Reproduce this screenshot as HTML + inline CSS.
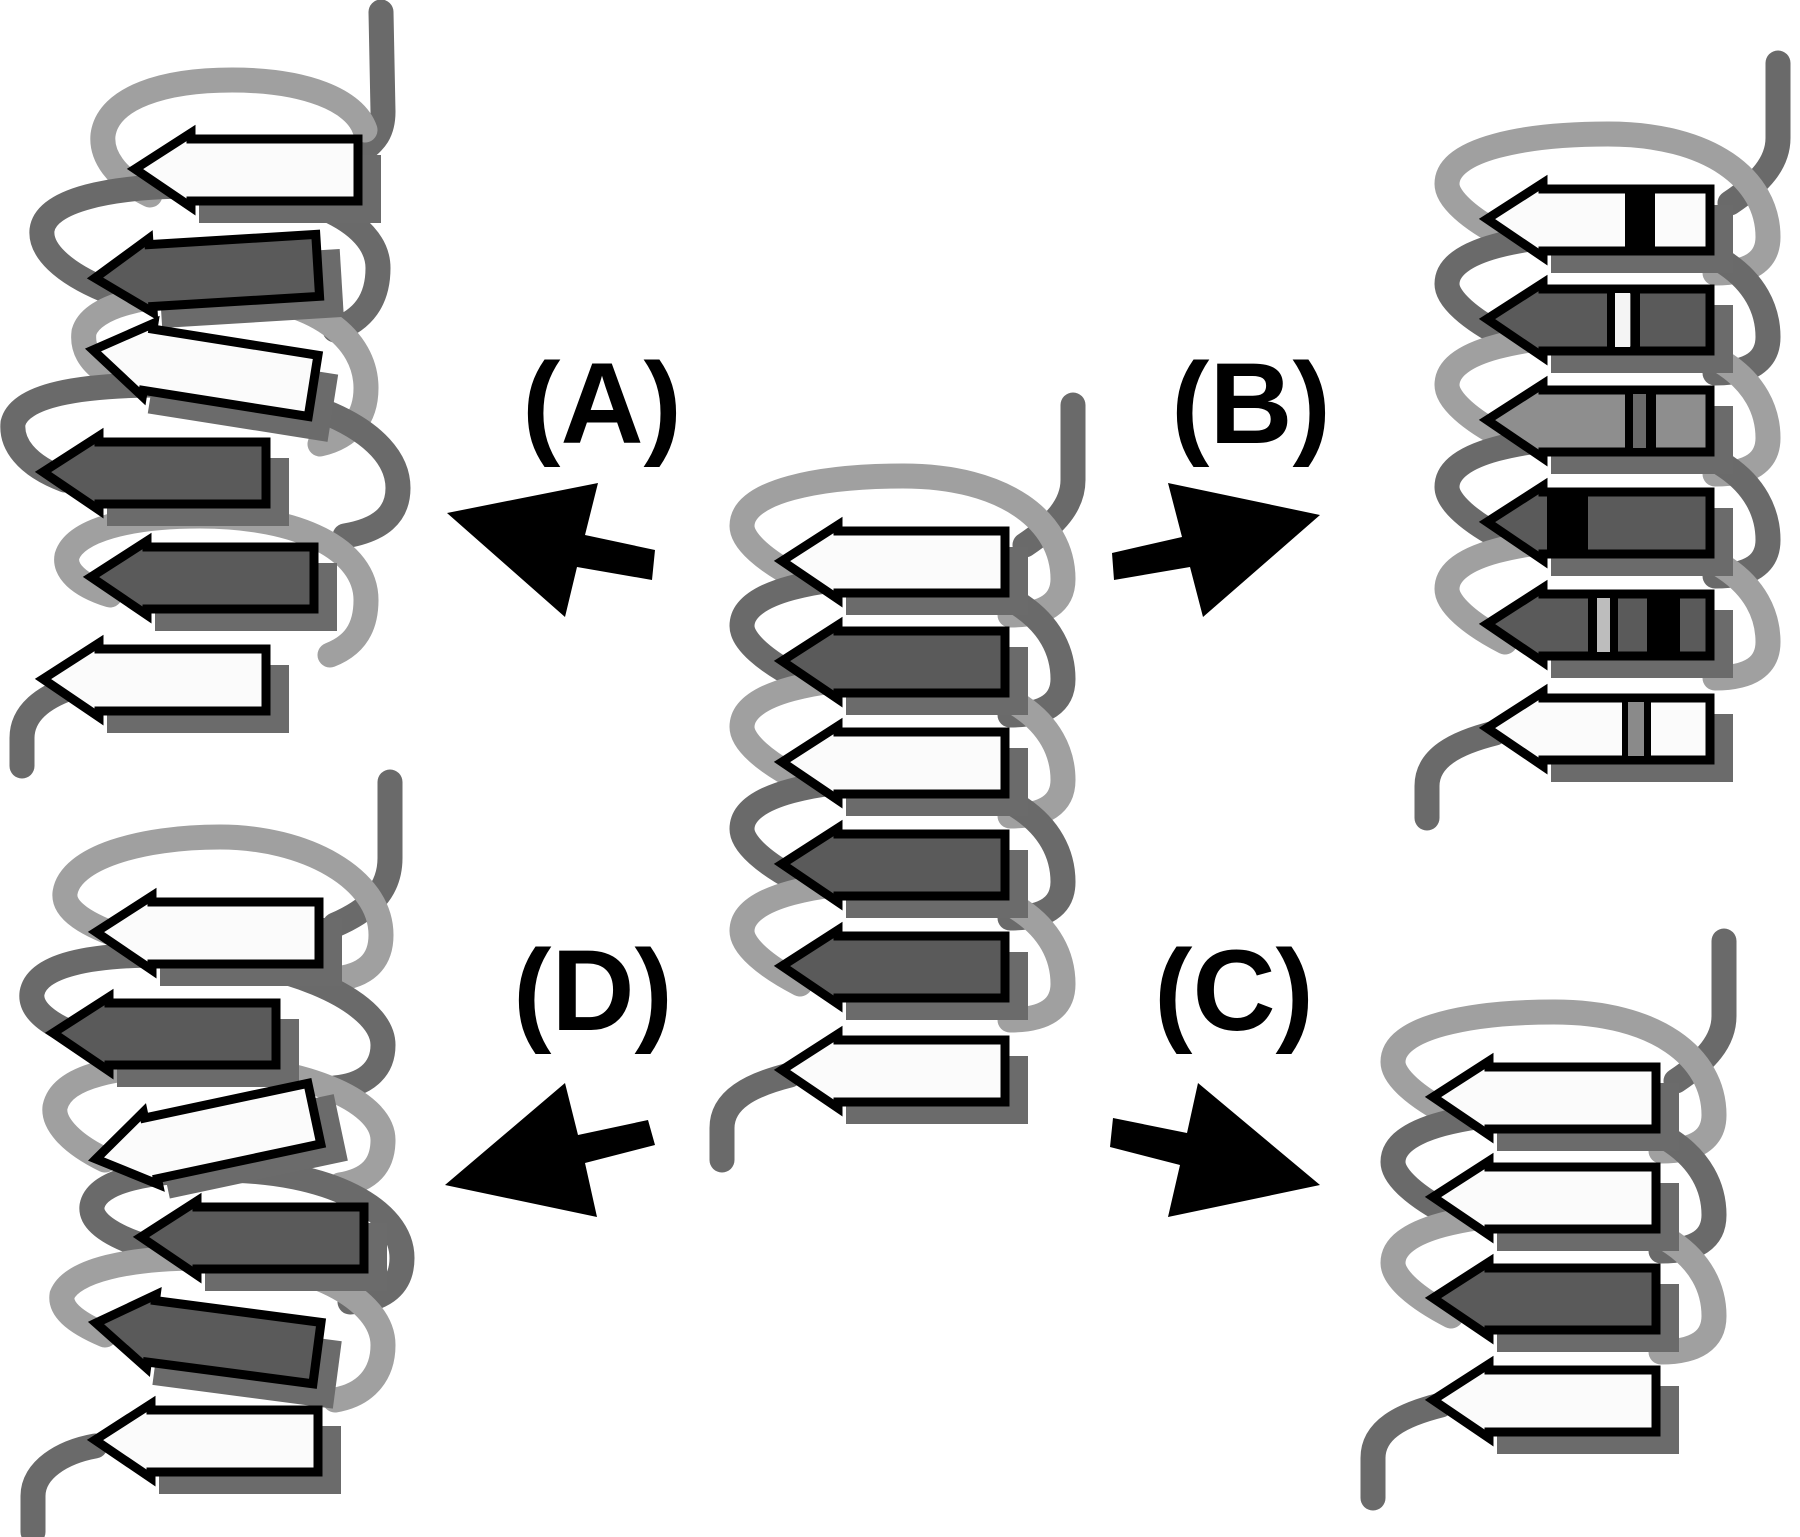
<!DOCTYPE html>
<html>
<head>
<meta charset="utf-8">
<style>
  html,body{margin:0;padding:0;background:#fff;}
  svg{display:block;}
  text{font-family:"Liberation Sans",Arial,sans-serif;font-weight:bold;}
</style>
</head>
<body>
<svg width="1800" height="1537" viewBox="0 0 1800 1537" xmlns="http://www.w3.org/2000/svg">
  <defs>
    <polygon id="ar" points="0,0 56,-36 56,-30 223,-30 223,32 56,32 56,38"/>
    <rect id="sh" x="64" y="-14" width="182" height="68"/>
    <path id="lp" fill="none" d="M 800 18 C 765 0 742 -20 742 -35 C 742 -70 820 -85 903 -85 C 1005 -85 1063 -40 1063 18 C 1063 42 1045 54 1010 54"/>
  </defs>
  <rect width="1800" height="1537" fill="#fff"/>

  <!-- ============ CENTER HELIX ============ -->
  <g id="center">
    <g fill="none" stroke-width="25" stroke-linecap="round">
      <path d="M 1073 405 L 1073 480 C 1073 505 1055 525 1025 545" stroke="#6a6a6a"/>
      <use href="#lp" transform="translate(0,561)" stroke="#a0a0a0"/>
      <use href="#lp" transform="translate(0,661)" stroke="#6a6a6a"/>
      <use href="#lp" transform="translate(0,762)" stroke="#a0a0a0"/>
      <use href="#lp" transform="translate(0,864)" stroke="#6a6a6a"/>
      <use href="#lp" transform="translate(0,966)" stroke="#a0a0a0"/>
      <path d="M 790 1075 C 750 1085 722 1100 722 1128 L 722 1160" stroke="#6a6a6a"/>
    </g>
    <g fill="#6b6b6b">
      <use href="#sh" transform="translate(782,561)"/>
      <use href="#sh" transform="translate(782,661)"/>
      <use href="#sh" transform="translate(782,762)"/>
      <use href="#sh" transform="translate(782,864)"/>
      <use href="#sh" transform="translate(782,966)"/>
      <use href="#sh" transform="translate(782,1070)"/>
    </g>
    <g stroke="#000" stroke-width="9" stroke-linejoin="miter">
      <use href="#ar" transform="translate(782,561)" fill="#fbfbfb"/>
      <use href="#ar" transform="translate(782,661)" fill="#5a5a5a"/>
      <use href="#ar" transform="translate(782,762)" fill="#fbfbfb"/>
      <use href="#ar" transform="translate(782,864)" fill="#5a5a5a"/>
      <use href="#ar" transform="translate(782,966)" fill="#5a5a5a"/>
      <use href="#ar" transform="translate(782,1070)" fill="#fbfbfb"/>
    </g>
  </g>

  <!-- ============ B HELIX (top right) ============ -->
  <g transform="translate(705,-342)">
    <g fill="none" stroke-width="25" stroke-linecap="round">
      <path d="M 1073 405 L 1073 480 C 1073 505 1055 525 1025 545" stroke="#6a6a6a"/>
      <use href="#lp" transform="translate(0,561)" stroke="#a0a0a0"/>
      <use href="#lp" transform="translate(0,661)" stroke="#6a6a6a"/>
      <use href="#lp" transform="translate(0,762)" stroke="#a0a0a0"/>
      <use href="#lp" transform="translate(0,864)" stroke="#6a6a6a"/>
      <use href="#lp" transform="translate(0,966)" stroke="#a0a0a0"/>
      <path d="M 790 1075 C 750 1085 722 1100 722 1128 L 722 1160" stroke="#6a6a6a"/>
    </g>
    <g fill="#6b6b6b">
      <use href="#sh" transform="translate(782,561)"/>
      <use href="#sh" transform="translate(782,661)"/>
      <use href="#sh" transform="translate(782,762)"/>
      <use href="#sh" transform="translate(782,864)"/>
      <use href="#sh" transform="translate(782,966)"/>
      <use href="#sh" transform="translate(782,1070)"/>
    </g>
    <g stroke="#000" stroke-width="9" stroke-linejoin="miter">
      <use href="#ar" transform="translate(782,561)" fill="#fbfbfb"/>
      <use href="#ar" transform="translate(782,661)" fill="#5a5a5a"/>
      <use href="#ar" transform="translate(782,762)" fill="#8e8e8e"/>
      <use href="#ar" transform="translate(782,864)" fill="#5a5a5a"/>
      <use href="#ar" transform="translate(782,966)" fill="#5a5a5a"/>
      <use href="#ar" transform="translate(782,1070)" fill="#fbfbfb"/>
    </g>
    <!-- stripes -->
    <g>
      <rect x="920" y="535" width="30" height="54" fill="#000"/>
      <rect x="902" y="635" width="8" height="54" fill="#000"/>
      <rect x="910" y="635" width="15" height="54" fill="#f4f4f4"/>
      <rect x="926" y="635" width="9" height="54" fill="#000"/>
      <rect x="920" y="736" width="8" height="54" fill="#000"/>
      <rect x="928" y="736" width="13" height="54" fill="#6a6a6a"/>
      <rect x="941" y="736" width="10" height="54" fill="#000"/>
      <rect x="842" y="838" width="41" height="54" fill="#000"/>
      <rect x="883" y="940" width="9" height="54" fill="#000"/>
      <rect x="892" y="940" width="13" height="54" fill="#bdbdbd"/>
      <rect x="905" y="940" width="8" height="54" fill="#000"/>
      <rect x="942" y="940" width="33" height="54" fill="#000"/>
      <rect x="917" y="1044" width="6" height="54" fill="#000"/>
      <rect x="923" y="1044" width="16" height="54" fill="#8a8a8a"/>
      <rect x="939" y="1044" width="7" height="54" fill="#000"/>
    </g>
  </g>

  <!-- ============ C HELIX (bottom right) ============ -->
  <g transform="translate(651,536)">
    <g fill="none" stroke-width="25" stroke-linecap="round">
      <path d="M 1073 405 L 1073 480 C 1073 505 1055 525 1025 545" stroke="#6a6a6a"/>
      <use href="#lp" transform="translate(0,561)" stroke="#a0a0a0"/>
      <use href="#lp" transform="translate(0,661)" stroke="#6a6a6a"/>
      <use href="#lp" transform="translate(0,762)" stroke="#a0a0a0"/>
      <path d="M 790 869 C 750 879 722 894 722 922 L 722 962" stroke="#6a6a6a"/>
    </g>
    <g fill="#6b6b6b">
      <use href="#sh" transform="translate(782,561)"/>
      <use href="#sh" transform="translate(782,661)"/>
      <use href="#sh" transform="translate(782,762)"/>
      <use href="#sh" transform="translate(782,864)"/>
    </g>
    <g stroke="#000" stroke-width="9" stroke-linejoin="miter">
      <use href="#ar" transform="translate(782,561)" fill="#fbfbfb"/>
      <use href="#ar" transform="translate(782,661)" fill="#fbfbfb"/>
      <use href="#ar" transform="translate(782,762)" fill="#5a5a5a"/>
      <use href="#ar" transform="translate(782,864)" fill="#fbfbfb"/>
    </g>
  </g>

  <!-- ============ A HELIX (top left) ============ -->
  <g>
    <g fill="none" stroke-width="25" stroke-linecap="round">
      <path d="M 381 12 L 383 112 C 383 132 375 142 360 152" stroke="#6a6a6a"/>
      <path d="M 150 195 C 115 178 101 155 103 135 C 108 97 165 80 232 80 C 305 80 355 100 365 130" stroke="#a0a0a0"/>
      <path d="M 105 290 C 62 272 40 250 42 230 C 46 200 110 186 195 186 C 300 186 378 220 378 268 C 378 300 363 320 335 330" stroke="#6a6a6a"/>
      <path d="M 110 375 C 88 362 82 347 84 332 C 92 305 150 292 220 294 C 318 297 366 340 366 388 C 366 418 350 437 320 444" stroke="#a0a0a0"/>
      <path d="M 65 480 C 25 465 11 443 13 423 C 20 395 80 385 160 385 C 300 385 398 430 398 488 C 398 515 380 530 345 536" stroke="#6a6a6a"/>
      <path d="M 110 595 C 78 585 64 570 67 556 C 75 530 130 516 200 516 C 300 516 366 550 366 600 C 366 630 353 646 330 655" stroke="#a0a0a0"/>
      <path d="M 70 688 C 45 697 22 712 22 738 L 22 766" stroke="#6a6a6a"/>
    </g>
    <g fill="#6b6b6b">
      <use href="#sh" transform="translate(135,169)"/>
      <use href="#sh" transform="translate(95,278) rotate(-3.5)"/>
      <use href="#sh" transform="translate(93,350) rotate(9)"/>
      <use href="#sh" transform="translate(43,472)"/>
      <use href="#sh" transform="translate(91,577)"/>
      <use href="#sh" transform="translate(43,679)"/>
    </g>
    <g stroke="#000" stroke-width="9" stroke-linejoin="miter">
      <use href="#ar" transform="translate(135,169)" fill="#fbfbfb"/>
      <use href="#ar" transform="translate(95,278) rotate(-3.5)" fill="#5a5a5a"/>
      <use href="#ar" transform="translate(93,350) rotate(9)" fill="#fbfbfb"/>
      <use href="#ar" transform="translate(43,472)" fill="#5a5a5a"/>
      <use href="#ar" transform="translate(91,577)" fill="#5a5a5a"/>
      <use href="#ar" transform="translate(43,679)" fill="#fbfbfb"/>
    </g>
  </g>

  <!-- ============ D HELIX (bottom left) ============ -->
  <g>
    <g fill="none" stroke-width="25" stroke-linecap="round">
      <path d="M 390 782 L 390 858 C 390 890 370 910 335 925" stroke="#6a6a6a"/>
      <path d="M 130 940 C 85 925 63 910 65 893 C 70 858 140 837 220 837 C 305 837 381 878 381 935 C 381 962 365 976 335 979" stroke="#a0a0a0"/>
      <path d="M 90 1040 C 45 1025 30 1008 32 993 C 37 965 90 955 160 955 C 280 955 383 1000 383 1045 C 383 1070 365 1085 335 1088" stroke="#6a6a6a"/>
      <path d="M 105 1160 C 68 1142 53 1122 55 1107 C 62 1075 120 1065 190 1065 C 300 1065 383 1100 383 1140 C 383 1165 370 1180 340 1185" stroke="#a0a0a0"/>
      <path d="M 150 1248 C 110 1236 90 1221 92 1206 C 97 1180 150 1170 220 1170 C 330 1170 402 1210 402 1258 C 402 1285 385 1300 350 1302" stroke="#6a6a6a"/>
      <path d="M 105 1335 C 72 1321 60 1308 62 1295 C 72 1270 130 1258 200 1258 C 310 1258 383 1300 383 1345 C 383 1375 365 1395 335 1400" stroke="#a0a0a0"/>
      <path d="M 95 1446 C 62 1452 33 1470 33 1496 L 33 1532" stroke="#6a6a6a"/>
    </g>
    <g fill="#6b6b6b">
      <use href="#sh" transform="translate(96,932)"/>
      <use href="#sh" transform="translate(53,1033)"/>
      <use href="#sh" transform="translate(96,1159) rotate(-12)"/>
      <use href="#sh" transform="translate(141,1237)"/>
      <use href="#sh" transform="translate(96,1323) rotate(7.5)"/>
      <use href="#sh" transform="translate(95,1440)"/>
    </g>
    <g stroke="#000" stroke-width="9" stroke-linejoin="miter">
      <use href="#ar" transform="translate(96,932)" fill="#fbfbfb"/>
      <use href="#ar" transform="translate(53,1033)" fill="#5a5a5a"/>
      <use href="#ar" transform="translate(96,1159) rotate(-12)" fill="#fbfbfb"/>
      <use href="#ar" transform="translate(141,1237)" fill="#5a5a5a"/>
      <use href="#ar" transform="translate(96,1323) rotate(7.5)" fill="#5a5a5a"/>
      <use href="#ar" transform="translate(95,1440)" fill="#fbfbfb"/>
    </g>
  </g>

  <!-- ============ BIG ARROWS ============ -->
  <g fill="#000">
    <polygon points="447,513 598,483 585,535 655,550 652,580 577,567 565,617"/>
    <polygon points="1112,553 1182,537 1168,483 1320,515 1203,617 1190,567 1114,580"/>
    <polygon points="445,1185 565,1083 578,1135 648,1120 655,1145 585,1163 597,1217"/>
    <polygon points="1113,1118 1187,1133 1198,1083 1320,1185 1168,1217 1180,1165 1110,1147"/>
  </g>

  <!-- ============ LABELS ============ -->
  <g fill="#000" font-size="115" text-anchor="middle">
    <text x="602" y="443">(A)</text>
    <text x="1251" y="443">(B)</text>
    <text x="593" y="1030">(D)</text>
    <text x="1234" y="1030">(C)</text>
  </g>
</svg>
</body>
</html>
